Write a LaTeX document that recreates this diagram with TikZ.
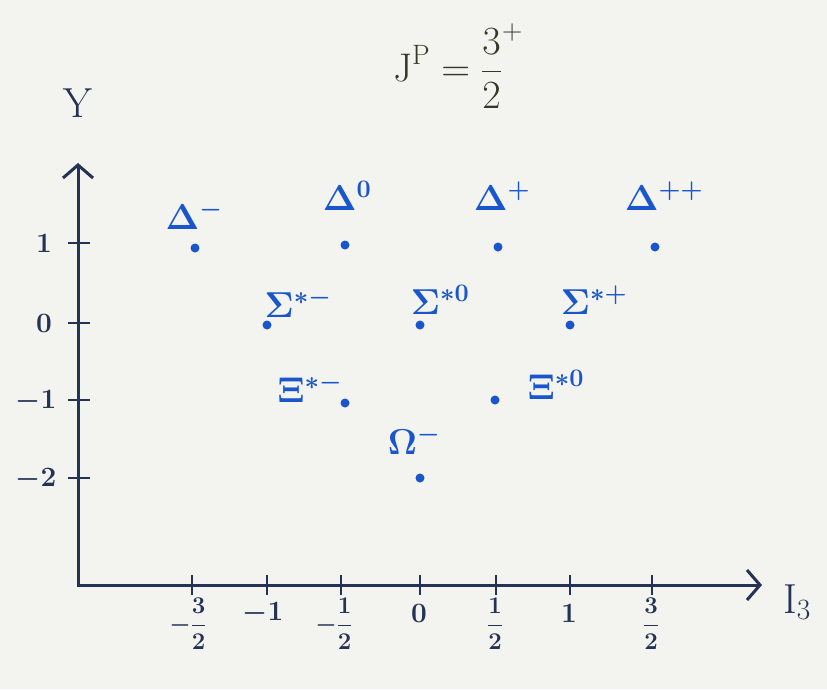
\RequirePackage{fix-cm}
\documentclass[tikz,border=0pt]{standalone}
\usetikzlibrary{arrows.meta}
\definecolor{ink}{RGB}{35,50,85}
\definecolor{ink2}{RGB}{55,55,40}
\definecolor{pen}{RGB}{25,85,205}
\definecolor{paper}{RGB}{243,243,239}
\begin{document}
\begin{tikzpicture}[x=1pt,y=-1pt,
  axis/.style={ink, line width=3pt},
  tick/.style={ink, line width=2.6pt},
  dotp/.style={circle, fill=pen, inner sep=0pt, minimum size=9pt},
  plab/.style={pen, font=\fontsize{36}{42}\selectfont\boldmath, inner sep=0pt},
  num/.style={ink, font=\fontsize{28}{32}\selectfont\boldmath, inner sep=0pt},
  frac/.style={ink, font=\fontsize{24}{28}\selectfont\boldmath, inner sep=0pt},
  axlab/.style={ink, font=\fontsize{42}{48}\selectfont, inner sep=0pt}]
\fill[paper] (0,0) rectangle (827,689);
\useasboundingbox (0,0) rectangle (827,689);

% title
\node[ink2, font=\fontsize{40}{46}\selectfont, inner sep=0pt] (title) at (458,66)
  {$\displaystyle \mathrm{J}^{\mathrm{P}}=\frac{3}{2}^{+}$};

% axes
\coordinate (O) at (78,585);
\coordinate (ytop) at (78,163);
\coordinate (xend) at (762,585);
\draw[axis, {Straight Barb[length=13pt,width=30pt,line width=3pt]}-{Straight Barb[length=13pt,width=30pt,line width=3pt]}] (ytop) -- (O) -- (xend);
\node[axlab] (ylab) at (78,103) {$\mathrm{Y}$};
\node[axlab] (xlab) at (797,602) {$\mathrm{I}_3$};

% x ticks and labels
\foreach \x in {192,267,341,420,496,570,652}
  \draw[tick] (\x,575) -- (\x,595);
\node[frac] (xm32) at (188,624) {$\displaystyle -\frac{3}{2}$};
\node[num]  (xm1)  at (263,613) {$-1$};
\node[frac] (xm12) at (334,624) {$\displaystyle -\frac{1}{2}$};
\node[num]  (x0)   at (419,613) {$0$};
\node[frac] (x12)  at (495,624) {$\displaystyle \frac{1}{2}$};
\node[num]  (x1)   at (569,613) {$1$};
\node[frac] (x32)  at (651,624) {$\displaystyle \frac{3}{2}$};

% y ticks and labels
\foreach \y in {243,323,400,478}
  \draw[tick] (68,\y) -- (90,\y);
\node[num] (y1)  at (44,243) {$1$};
\node[num] (y0)  at (44,323) {$0$};
\node[num] (ym1) at (36,401) {$-1$};
\node[num] (ym2) at (36,479) {$-2$};

% particles
\node[dotp] (dm)  at (195,248) {};
\node[plab] (dmL) at (194,215) {$\Delta^{-}$};
\node[dotp] (d0)  at (345,245) {};
\node[plab] (d0L) at (347,196) {$\Delta^{0}$};
\node[dotp] (dp)  at (498,247) {};
\node[plab] (dpL) at (502,196) {$\Delta^{+}$};
\node[dotp] (dpp) at (655,247) {};
\node[plab] (dppL) at (664,196) {$\Delta^{++}$};

\node[dotp] (sm)  at (267,325) {};
\node[plab] (smL) at (298,303) {$\Sigma^{*-}$};
\node[dotp] (s0)  at (420,325) {};
\node[plab] (s0L) at (440,300) {$\Sigma^{*0}$};
\node[dotp] (sp)  at (570,325) {};
\node[plab] (spL) at (594,300) {$\Sigma^{*+}$};

\node[dotp] (xm)  at (345,403) {};
\node[plab] (xmL) at (310,388) {$\Xi^{*-}$};
\node[dotp] (x0p) at (495,400) {};
\node[plab] (x0L) at (556,385) {$\Xi^{*0}$};

\node[dotp] (om)  at (420,478) {};
\node[plab] (omL) at (414,440) {$\Omega^{-}$};
\end{tikzpicture}
\end{document}
